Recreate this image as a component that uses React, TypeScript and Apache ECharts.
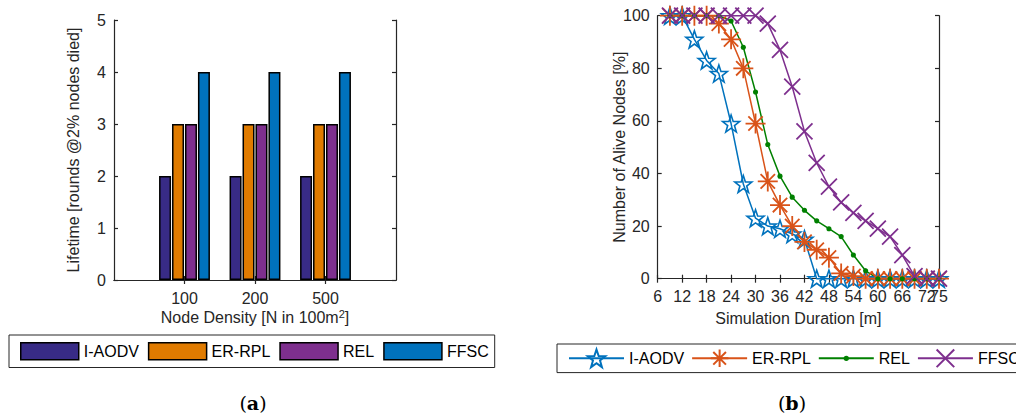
import React, { useEffect, useRef } from "react";
import * as echarts from "echarts";

// ---------- data ----------
const seriesNames = ["I-AODV", "ER-RPL", "REL", "FFSC"];

// (a) lifetime bar chart
const densityLabels = ["", "100", "200", "500", ""];
const lifeIAODV = [null, 2, 2, 2, null];
const lifeERRPL = [null, 3, 3, 3, null];
const lifeREL = [null, 3, 3, 3, null];
const lifeFFSC = [null, 4, 4, 4, null];
const lifetimeTicks = [0, 1, 2, 3, 4, 5];

// (b) alive nodes vs simulation duration
const durations = [9, 12, 15, 18, 21, 24, 27, 30, 33, 36, 39, 42, 45, 48, 51, 54, 57, 60, 63, 66, 69, 72, 75];
const aliveIAODV = [100, 100, 91, 83, 78, 59, 36, 23, 20, 19, 17, 15, 0, 0, 0, 0, 0, 0, 0, 0, 0, 0, 0];
const aliveERRPL = [100, 100, 100, 100, 97, 91, 80, 59, 37, 28, 20, 14, 11, 8, 2, 1, 0, 0, 0, 0, 0, 0, 0];
const aliveREL = [100, 100, 100, 100, 100, 98, 88, 71, 51, 39, 31, 26, 22, 19, 16, 9, 3, 0, 0, 0, 0, 0, 0];
const aliveFFSC = [100, 100, 100, 100, 100, 100, 100, 100, 97, 87, 73, 56, 44, 35, 29, 25, 22, 19, 16, 9, 1, 0, 0];
const durationTickLabels = ["6", "12", "18", "24", "30", "36", "42", "48", "54", "60", "66", "72", "75"];

// ---------- styles ----------
const barColors = ["#382B86", "#E07B00", "#7E2F8E", "#0072BD"];
const lineColors = ["#0072BD", "#D95319", "#008000", "#7E2F8E"];
const AXIS = "#262626";
const FONT = "Liberation Sans";
const FS = 16;

function starPath(): string {
  let d = "path://";
  for (let k = 0; k < 10; k++) {
    const a = ((-90 + k * 36) * Math.PI) / 180;
    const r = k % 2 === 0 ? 1 : 0.4;
    d += (k === 0 ? "M" : "L") + (r * Math.cos(a)).toFixed(4) + "," + (r * Math.sin(a)).toFixed(4);
  }
  return d + "Z";
}
const STAR = starPath();
const ASTER = "path://M0,-1L0,1M-1,0L1,0M-0.72,-0.72L0.72,0.72M-0.72,0.72L0.72,-0.72";
const CROSS = "path://M-1,-1L1,1M-1,1L1,-1";
const DOT = "path://M-5,-5M5,5M1.5,0A1.5,1.5,0,1,1,-1.5,0A1.5,1.5,0,1,1,1.5,0Z";

const labelStyle = { fontFamily: FONT, fontSize: FS, color: AXIS };

function caption(letter: string, x: number) {
  return {
    type: "text",
    x,
    y: 403,
    style: {
      text: "{p|(}{b|" + letter + "}{p|)}",
      align: "center",
      verticalAlign: "middle",
      rich: {
        p: { fontFamily: "DejaVu Serif", fontSize: 19, fill: "#000" },
        b: { fontFamily: "DejaVu Serif", fontSize: 19, fontWeight: "bold", fill: "#000" },
      },
    },
  };
}

function barOption(): any {
  const lifeData = [lifeIAODV, lifeERRPL, lifeREL, lifeFFSC];
  const yCommon = {
    type: "value",
    min: lifetimeTicks[0],
    max: lifetimeTicks[lifetimeTicks.length - 1],
    interval: 1,
    splitLine: { show: false },
    axisLine: { show: true, lineStyle: { color: AXIS, width: 1.2 } },
    axisTick: { show: true, inside: true, length: 4, lineStyle: { color: AXIS, width: 1.2 } },
  };
  const xCommon = {
    type: "category",
    data: densityLabels,
    boundaryGap: false,
    splitLine: { show: false },
    axisLine: { show: true, lineStyle: { color: AXIS, width: 1.2 } },
    axisTick: {
      show: true,
      inside: true,
      length: 4,
      interval: (i: number) => i >= 1 && i <= 3,
      lineStyle: { color: AXIS, width: 1.2 },
    },
  };
  return {
    animation: false,
    grid: { left: 114, top: 20, width: 282, height: 260, outerBoundsMode: "none" },
    xAxis: [
      {
        ...xCommon,
        position: "bottom",
        axisLabel: { ...labelStyle, margin: 10, interval: 0 },
        name: "Node Density [N in 100m{sup|2}]",
        nameLocation: "middle",
        nameGap: 28,
        nameMoveOverlap: false,
        nameTextStyle: {
          ...labelStyle,
          rich: { sup: { fontFamily: FONT, fontSize: 11, color: AXIS, verticalAlign: "top", padding: [0, 0, 8, 0] } },
        },
      },
      { ...xCommon, position: "top", axisLabel: { show: false } },
    ],
    yAxis: [
      {
        ...yCommon,
        position: "left",
        axisLabel: { ...labelStyle, margin: 8 },
        name: "Lifetime [rounds @2% nodes died]",
        nameLocation: "middle",
        nameGap: 33,
        nameMoveOverlap: false,
        nameTextStyle: { ...labelStyle },
      },
      { ...yCommon, position: "right", axisLabel: { show: false } },
    ],
    legend: {
      left: 9,
      top: 335,
      orient: "horizontal",
      padding: [7, 6, 7, 11],
      itemGap: 9,
      itemWidth: 58,
      itemHeight: 17,
      icon: "rect",
      borderColor: AXIS,
      borderWidth: 1,
      backgroundColor: "#fff",
      data: seriesNames,
      itemStyle: { borderColor: "#000", borderWidth: 1.5 },
      textStyle: { fontFamily: FONT, fontSize: FS, color: "#000" },
      selectedMode: false,
    },
    series: seriesNames.map((n, i) => ({
      name: n,
      type: "bar",
      xAxisIndex: 0,
      yAxisIndex: 0,
      data: lifeData[i],
      barWidth: 12,
      barGap: "8%",
      itemStyle: { color: barColors[i], borderColor: "#000", borderWidth: 1.5 },
    })),
    graphic: [caption("a", 253)],
  };
}

function lineOption(): any {
  const aliveData = [aliveIAODV, aliveERRPL, aliveREL, aliveFFSC];
  const symbols = [STAR, ASTER, DOT, CROSS];
  const sizes = [17, 20, 17, 16];
  const fills = ["none", "none", lineColors[2], "none"];
  const borders = [1.6, 1.8, 0, 1.8];
  const tickLabelFor = (v: number, skip: string) => {
    const s = String(Math.round(v));
    return durationTickLabels.indexOf(s) >= 0 && s !== skip ? s : "";
  };
  const xCommon = {
    type: "value",
    min: 6,
    max: 75,
    interval: 6,
    splitLine: { show: false },
    axisLine: { show: true, lineStyle: { color: AXIS, width: 1.2 } },
    axisTick: { show: true, inside: true, length: 4, lineStyle: { color: AXIS, width: 1.2 } },
  };
  const yCommon = {
    type: "value",
    min: 0,
    max: 100,
    interval: 20,
    splitLine: { show: false },
    axisLine: { show: true, lineStyle: { color: AXIS, width: 1.2 } },
    axisTick: { show: true, inside: true, length: 4, lineStyle: { color: AXIS, width: 1.2 } },
  };
  return {
    animation: false,
    grid: { left: 127.7, top: 15.7, width: 281.3, height: 263, outerBoundsMode: "none" },
    xAxis: [
      {
        ...xCommon,
        position: "bottom",
        axisLabel: {
          ...labelStyle,
          margin: 10,
          showMaxLabel: true,
          showMinLabel: true,
          formatter: (v: number) => tickLabelFor(v, "72"),
        },
        name: "Simulation Duration [m]",
        nameLocation: "middle",
        nameGap: 32,
        nameMoveOverlap: false,
        nameTextStyle: { ...labelStyle },
      },
      { ...xCommon, position: "top", axisLabel: { show: false } },
      {
        ...xCommon,
        position: "bottom",
        axisLine: { show: false },
        axisTick: { show: false },
        axisLabel: {
          ...labelStyle,
          margin: 10,
          showMaxLabel: false,
          showMinLabel: false,
          formatter: (v: number) => (Math.round(v) === 72 ? "72" : ""),
        },
      },
    ],
    yAxis: [
      {
        ...yCommon,
        position: "left",
        axisLabel: { ...labelStyle, margin: 8 },
        name: "Number of Alive Nodes [%]",
        nameLocation: "middle",
        nameGap: 30,
        nameMoveOverlap: false,
        nameTextStyle: { ...labelStyle },
      },
      { ...yCommon, position: "right", axisLabel: { show: false } },
    ],
    legend: {
      left: 27,
      top: 344,
      orient: "horizontal",
      padding: [3, 10, 3, 11],
      itemGap: 7,
      itemWidth: 55,
      itemHeight: 22,
      borderColor: AXIS,
      borderWidth: 1,
      backgroundColor: "#fff",
      data: seriesNames,
      textStyle: { fontFamily: FONT, fontSize: FS, color: "#000" },
      selectedMode: false,
    },
    series: seriesNames.map((n, i) => ({
      name: n,
      type: "line",
      xAxisIndex: 0,
      yAxisIndex: 0,
      data: durations.map((d, k) => [d, aliveData[i][k]]),
      symbol: symbols[i],
      symbolSize: sizes[i],
      showAllSymbol: true,
      clip: false,
      lineStyle: { color: lineColors[i], width: 1.5 },
      itemStyle: { color: fills[i], borderColor: lineColors[i], borderWidth: borders[i] },
      emphasis: { disabled: true },
    })),
    graphic: [caption("b", 262)],
  };
}

export default function App() {
  const leftRef = useRef<HTMLDivElement>(null);
  const rightRef = useRef<HTMLDivElement>(null);

  useEffect(() => {
    document.body.style.margin = "0";
    const left = echarts.init(leftRef.current!, null, { renderer: "svg" });
    const right = echarts.init(rightRef.current!, null, { renderer: "svg" });
    left.setOption(barOption());
    right.setOption(lineOption());
    return () => {
      left.dispose();
      right.dispose();
    };
  }, []);

  return (
    <div style={{ position: "relative", width: 1016, height: 414, background: "#fff", overflow: "hidden" }}>
      <div ref={leftRef} style={{ position: "absolute", left: 0, top: 0, width: 530, height: 414 }} />
      <div ref={rightRef} style={{ position: "absolute", left: 530, top: 0, width: 600, height: 414 }} />
    </div>
  );
}
